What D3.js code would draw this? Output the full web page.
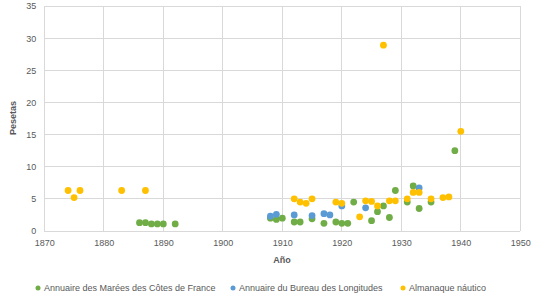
<!DOCTYPE html>
<html><head><meta charset="utf-8">
<script src="https://cdn.jsdelivr.net/npm/d3@7"></script>
<style>
html,body{margin:0;padding:0;background:#fff;}
text{font-family:"Liberation Sans",Arial,sans-serif;fill:#595959;}
</style></head>
<body><svg id="c" width="543" height="295"></svg>
<script>
const seriesNames = ["Annuaire des Marées des Côtes de France","Annuaire du Bureau des Longitudes","Almanaque náutico"];
const seriesColors = ["#70AD47","#5B9BD5","#FFC000"];
const mareesYears = [1886,1887,1888,1889,1890,1892,1908,1909,1910,1912,1913,1915,1917,1919,1920,1921,1922,1925,1926,1927,1928,1929,1931,1932,1933,1935,1939];
const mareesValues = [1.3,1.3,1.1,1.1,1.1,1.1,2.0,1.8,2.0,1.4,1.4,1.9,1.2,1.4,1.2,1.2,4.5,1.6,3.0,3.9,2.1,6.3,4.5,7.0,3.5,4.5,12.5];
const bureauYears = [1908,1909,1912,1915,1917,1918,1920,1924,1933];
const bureauValues = [2.3,2.6,2.5,2.4,2.7,2.5,3.9,3.6,6.7];
const almanaqueYears = [1874,1875,1876,1883,1887,1912,1913,1914,1915,1919,1920,1923,1924,1925,1926,1927,1928,1929,1931,1932,1933,1935,1937,1938,1940];
const almanaqueValues = [6.3,5.2,6.3,6.3,6.3,5.0,4.5,4.3,5.0,4.5,4.3,2.2,4.7,4.6,3.9,28.9,4.7,4.7,5.0,6.0,6.0,5.0,5.2,5.3,15.5];
const xTicks = [1870,1880,1890,1900,1910,1920,1930,1940,1950];
const yTicks = [0,5,10,15,20,25,30,35];
const xTitle = "Año", yTitle = "Pesetas";

const svg = d3.select("#c");
const x = d3.scaleLinear().domain([1870,1950]).range([44.3,520.3]);
const y = d3.scaleLinear().domain([0,35]).range([231,6]);

const g = svg.append("g");
g.selectAll(".gx").data(xTicks).join("line")
  .attr("x1",d=>x(d)).attr("x2",d=>x(d)).attr("y1",y(0)).attr("y2",y(35))
  .attr("stroke","#d9d9d9").attr("stroke-width",1).attr("shape-rendering","crispEdges");
g.selectAll(".gy").data(yTicks).join("line")
  .attr("x1",x(1870)).attr("x2",x(1950)).attr("y1",d=>y(d)).attr("y2",d=>y(d))
  .attr("stroke","#d9d9d9").attr("stroke-width",1).attr("shape-rendering","crispEdges");

const xAxis = d3.axisBottom(x).tickValues(xTicks).tickFormat(d3.format("d")).tickSize(0).tickPadding(9);
const ax = svg.append("g").attr("transform",`translate(0,${y(0)})`).call(xAxis);
ax.select(".domain").remove();
ax.selectAll("text").attr("font-size","9px").style("font-family","'Liberation Sans',Arial,sans-serif").attr("fill","#595959");

const yAxis = d3.axisLeft(y).tickValues(yTicks).tickSize(0).tickPadding(8);
const ay = svg.append("g").attr("transform",`translate(${x(1870)},0)`).call(yAxis);
ay.select(".domain").remove();
ay.selectAll("text").attr("font-size","9px").style("font-family","'Liberation Sans',Arial,sans-serif").attr("fill","#595959");

svg.append("text").attr("x",282).attr("y",263).attr("text-anchor","middle")
  .attr("font-size","9px").attr("font-weight","bold").text(xTitle);
svg.append("text").attr("transform","translate(16,118) rotate(-90)").attr("text-anchor","middle")
  .attr("font-size","9px").attr("font-weight","bold").text(yTitle);

const series = [
  {name:seriesNames[0], color:seriesColors[0], xs:mareesYears, ys:mareesValues},
  {name:seriesNames[1], color:seriesColors[1], xs:bureauYears, ys:bureauValues},
  {name:seriesNames[2], color:seriesColors[2], xs:almanaqueYears, ys:almanaqueValues}
];
series.forEach(s=>{
  svg.append("g").selectAll("circle").data(s.xs.map((v,i)=>[v,s.ys[i]])).join("circle")
    .attr("cx",d=>x(d[0])).attr("cy",d=>y(d[1])).attr("r",3.4).attr("fill",s.color);
});

const legX = [38,233,403];
const leg = svg.append("g");
series.forEach((s,i)=>{
  leg.append("circle").attr("cx",legX[i]).attr("cy",288).attr("r",2.5).attr("fill",s.color);
  leg.append("text").attr("x",legX[i]+6).attr("y",291.2).attr("font-size","9px").text(s.name);
});
</script></body></html>
